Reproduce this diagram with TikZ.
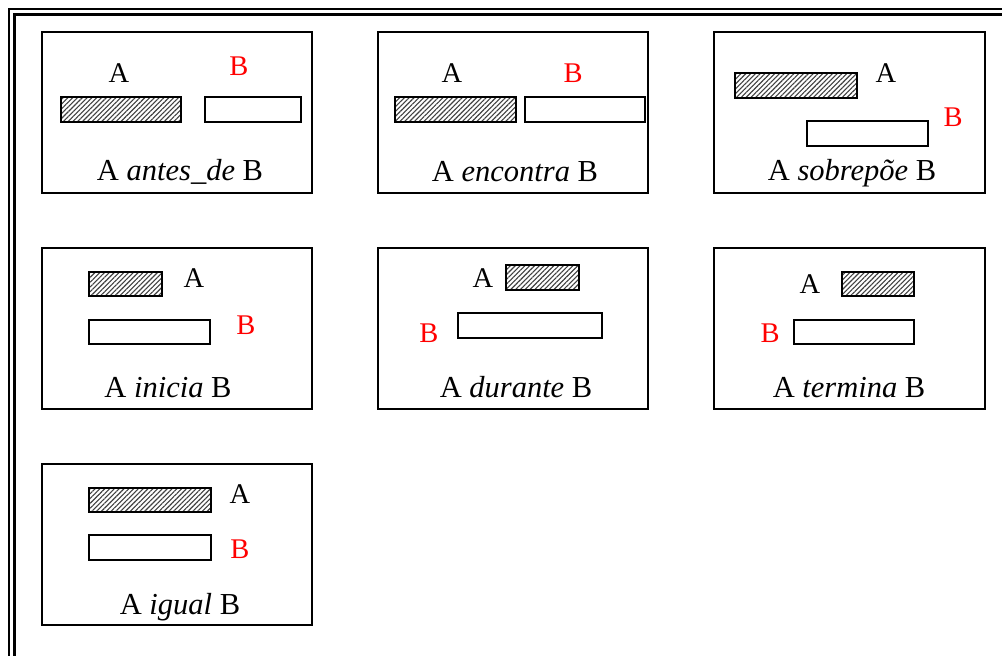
\documentclass[tikz,border=0pt]{standalone}
\usepackage{fontspec}
\setmainfont{Liberation Serif}
\usetikzlibrary{patterns.meta}
\definecolor{labred}{RGB}{255,0,0}
\tikzset{
  frameline/.style={draw=black, line width=2pt},
  panel/.style={draw=black, line width=1.9pt},
  hatchbar/.style={draw=black, line width=1.7pt,
    pattern={Lines[angle=45,distance=3.4pt,line width=1.1pt]}, pattern color=black!75},
  plainbar/.style={draw=black, line width=1.7pt, fill=white},
  lbl/.style={anchor=base, inner sep=0pt, font=\fontsize{28.5}{30}\selectfont},
  lblA/.style={lbl, text=black},
  lblB/.style={lbl, text=labred},
  caption/.style={anchor=base, inner sep=0pt, font=\fontsize{30.5}{32}\selectfont},
}
\begin{document}
\begin{tikzpicture}[x=1pt,y=-1pt]
\useasboundingbox (0,0) rectangle (1002,656);
\fill[white] (0,0) rectangle (1002,656);
% double page frame, running past the right and bottom edges
\draw[frameline] (9,700) -- (9,9) -- (1100,9);
\draw[frameline, line width=2.6pt] (14.5,700) -- (14.5,14.5) -- (1100,14.5);

% antes_de
\draw[panel] (42,32) rectangle (312,193);
\draw[hatchbar] (61,97) rectangle (181,122);
\draw[plainbar] (205,97) rectangle (301,122);
\node[lblA] (a1) at (119,82) {A};
\node[lblB] (b1) at (239,75) {B};
\node[caption] (c1) at (180,180) {A \textit{antes\_de} B};

% encontra
\draw[panel] (378,32) rectangle (648,193);
\draw[hatchbar] (395,97) rectangle (516,122);
\draw[plainbar] (525,97) rectangle (645,122);
\node[lblA] (a2) at (452,82) {A};
\node[lblB] (b2) at (573,82) {B};
\node[caption] (c2) at (515,181) {A \textit{encontra} B};

% sobrepoe
\draw[panel] (714,32) rectangle (985,193);
\draw[hatchbar] (735,73) rectangle (857,98);
\draw[plainbar] (807,121) rectangle (928,146);
\node[lblA] (a3) at (886,82) {A};
\node[lblB] (b3) at (953,126) {B};
\node[caption] (c3) at (852,180) {A \textit{sobrepõe} B};

% inicia
\draw[panel] (42,248) rectangle (312,409);
\draw[hatchbar] (89,272) rectangle (162,296);
\draw[plainbar] (89,320) rectangle (210,344);
\node[lblA] (a4) at (194,287) {A};
\node[lblB] (b4) at (246,334) {B};
\node[caption] (c4) at (168,397) {A \textit{inicia} B};

% durante
\draw[panel] (378,248) rectangle (648,409);
\draw[hatchbar] (506,265) rectangle (579,290);
\draw[plainbar] (458,313) rectangle (602,338);
\node[lblA] (a5) at (483,287) {A};
\node[lblB] (b5) at (429,342) {B};
\node[caption] (c5) at (516,397) {A \textit{durante} B};

% termina
\draw[panel] (714,248) rectangle (985,409);
\draw[hatchbar] (842,272) rectangle (914,296);
\draw[plainbar] (794,320) rectangle (914,344);
\node[lblA] (a6) at (810,293) {A};
\node[lblB] (b6) at (770,342) {B};
\node[caption] (c6) at (849,397) {A \textit{termina} B};

% igual
\draw[panel] (42,464) rectangle (312,625);
\draw[hatchbar] (89,488) rectangle (211,512);
\draw[plainbar] (89,535) rectangle (211,560);
\node[lblA] (a7) at (240,503) {A};
\node[lblB] (b7) at (240,558) {B};
\node[caption] (c7) at (180,614) {A \textit{igual} B};
\end{tikzpicture}
\end{document}
